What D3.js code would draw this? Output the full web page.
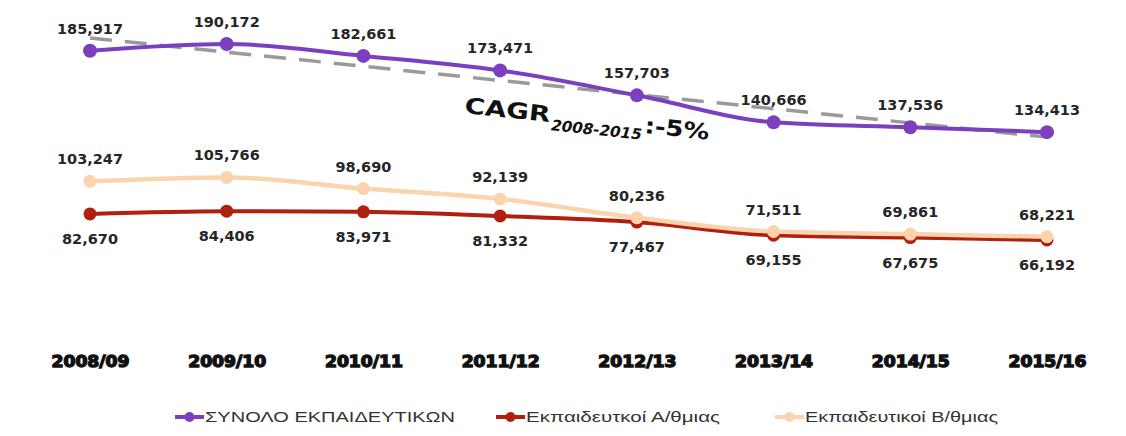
<!DOCTYPE html>
<html>
<head>
<meta charset="utf-8">
<script src="https://cdn.jsdelivr.net/npm/d3@7"></script>
<style>
  body { margin: 0; background: #fff; }
  svg { display: block; }
</style>
</head>
<body>
<div id="chart"></div>
<script>
// data
var years = ['2008/09', '2009/10', '2010/11', '2011/12', '2012/13', '2013/14', '2014/15', '2015/16'];
var total = [185917, 190172, 182661, 173471, 157703, 140666, 137536, 134413];
var primary = [82670, 84406, 83971, 81332, 77467, 69155, 67675, 66192];
var secondary = [103247, 105766, 98690, 92139, 80236, 71511, 69861, 68221];
var trend = [194000, 131300]; // dashed CAGR trend, first and last year
var legendNames = ['ΣΥΝΟΛΟ ΕΚΠΑΙΔΕΥΤΙΚΩΝ', 'Εκπαιδευτκοί Α/θμιας', 'Εκπαιδευτικοί Β/θμιας'];

var W = 1126, H = 436;
var svg = d3.select('#chart').append('svg').attr('width', W).attr('height', H);

var x = d3.scalePoint().domain(years).range([90, 1047]);
var y = d3.scaleLinear().domain([0, 200000]).range([344.5, 28.5]);

var fmt = d3.format(',');
var labelFont = 'DejaVu Sans, Verdana, sans-serif';

// trend line
svg.append('line')
    .attr('x1', x(years[0])).attr('y1', y(trend[0]))
    .attr('x2', x(years[years.length - 1])).attr('y2', y(trend[1]))
    .attr('stroke', '#9a9a9a').attr('stroke-width', 3.5)
    .attr('stroke-dasharray', '22,13');

var series = [
    {name: legendNames[0], values: total, color: '#7b40c0', r: 7, width: 4, pos: 'above'},
    {name: legendNames[2], values: secondary, color: '#fbd3ad', r: 6.5, width: 4.5, pos: 'above'},
    {name: legendNames[1], values: primary, color: '#b0200f', r: 6.5, width: 4, pos: 'below'}
];

var line = d3.line()
    .x(function(d, i) { return x(years[i]); })
    .y(function(d) { return y(d); })
    .curve(d3.curveMonotoneX);

// draw red first so peach sits on top
[series[2], series[1], series[0]].forEach(function(s) {
    var g = svg.append('g');
    g.append('path').datum(s.values)
        .attr('d', line)
        .attr('fill', 'none')
        .attr('stroke', s.color)
        .attr('stroke-width', s.width)
        .attr('stroke-linejoin', 'round');
    g.selectAll('circle').data(s.values).enter().append('circle')
        .attr('cx', function(d, i) { return x(years[i]); })
        .attr('cy', function(d) { return y(d); })
        .attr('r', s.r)
        .attr('fill', s.color);
    g.selectAll('text').data(s.values).enter().append('text')
        .attr('x', function(d, i) { return x(years[i]); })
        .attr('y', function(d) { return s.pos === 'above' ? y(d) - 17 : y(d) + 30; })
        .attr('text-anchor', 'middle')
        .attr('font-family', labelFont)
        .attr('font-weight', 'bold')
        .attr('font-size', '14.5px')
        .attr('fill', '#262626')
        .text(function(d) { return fmt(d); });
});

// x axis
var xAxis = svg.append('g')
    .attr('transform', 'translate(0,350)')
    .call(d3.axisBottom(x).tickSize(0).tickPadding(0));
xAxis.select('.domain').remove();
xAxis.selectAll('text')
    .attr('y', 17)
    .attr('dy', 0)
    .attr('font-family', labelFont)
    .attr('font-weight', 'bold')
    .attr('font-size', '15px')
    .attr('fill', '#111')
    .attr('stroke', '#111')
    .attr('stroke-width', 1.3)
    .attr('textLength', 78)
    .attr('lengthAdjust', 'spacingAndGlyphs');

// CAGR annotation
var cagr = svg.append('g').attr('transform', 'translate(464,113) rotate(6)');
cagr.append('text').attr('x', 0).attr('y', 0)
    .attr('font-family', labelFont).attr('font-weight', 'bold').attr('font-size', '22px')
    .attr('fill', '#111').attr('textLength', 86).attr('lengthAdjust', 'spacingAndGlyphs')
    .text('CAGR');
cagr.append('text').attr('x', 88).attr('y', 8)
    .attr('font-family', labelFont).attr('font-weight', 'bold').attr('font-style', 'italic')
    .attr('font-size', '15px').attr('fill', '#111')
    .attr('textLength', 91).attr('lengthAdjust', 'spacingAndGlyphs')
    .text('2008-2015');
cagr.append('text').attr('x', 181).attr('y', 1)
    .attr('font-family', labelFont).attr('font-weight', 'bold').attr('font-size', '22px')
    .attr('fill', '#111').attr('textLength', 65).attr('lengthAdjust', 'spacingAndGlyphs')
    .text(':-5%');

// legend
var legendItems = [
    {name: legendNames[0], color: series[0].color, x: 175, w: 250},
    {name: legendNames[1], color: series[2].color, x: 496, w: 194},
    {name: legendNames[2], color: series[1].color, x: 775, w: 193}
];
var lg = svg.selectAll('.legend').data(legendItems).enter().append('g')
    .attr('transform', function(d) { return 'translate(' + d.x + ',417)'; });
lg.append('line').attr('x1', 0).attr('x2', 29).attr('y1', 0).attr('y2', 0)
    .attr('stroke', function(d) { return d.color; }).attr('stroke-width', 4);
lg.append('circle').attr('cx', 14.5).attr('cy', 0).attr('r', 5)
    .attr('fill', function(d) { return d.color; });
lg.append('text').attr('x', 30).attr('y', 5)
    .attr('font-family', 'Liberation Sans, Arial, sans-serif')
    .attr('font-size', '14px').attr('fill', '#333')
    .attr('textLength', function(d) { return d.w; })
    .attr('lengthAdjust', 'spacingAndGlyphs')
    .text(function(d) { return d.name; });
</script>
</body>
</html>
